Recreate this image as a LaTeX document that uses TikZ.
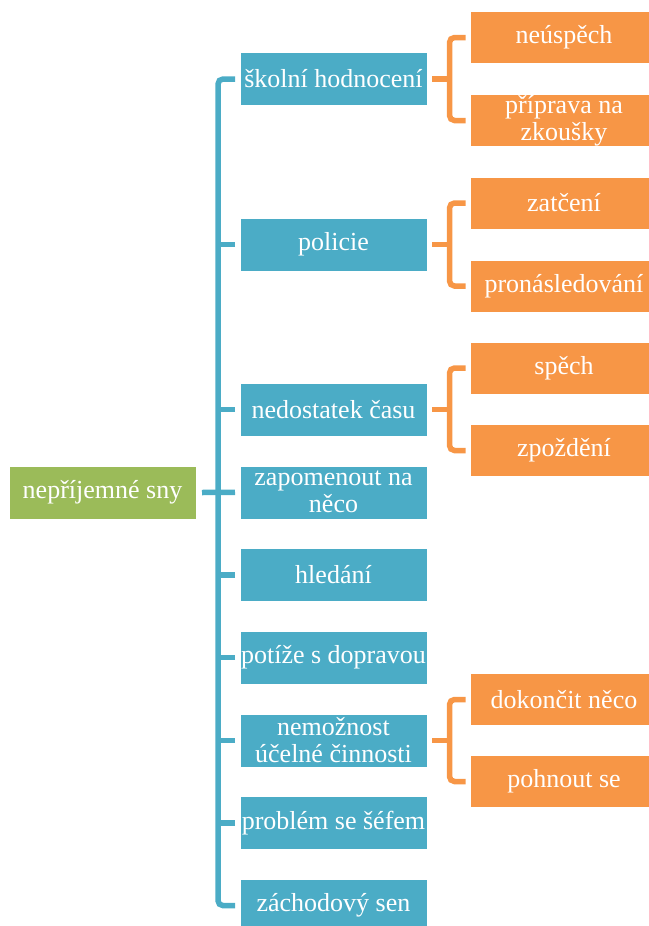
\documentclass[tikz,border=0pt]{standalone}
\usepackage{fontspec}
\setmainfont{Liberation Serif}
\begin{document}
\begin{tikzpicture}[x=1pt,y=-1pt,
  box/.style={inner sep=0pt, outer sep=0pt, draw=white, line width=0.6pt,
    text=white, align=center, minimum width=187pt, minimum height=53pt,
    font=\fontsize{26}{27}\selectfont},
  rootbox/.style={box, fill=rootgreen},
  catbox/.style={box, fill=catblue},
  subbox/.style={box, fill=suborange, minimum height=52pt},
  catline/.style={draw=catblue, line width=5.5pt, rounded corners=5pt},
  subline/.style={draw=suborange, line width=5.5pt, rounded corners=5pt}]
\definecolor{rootgreen}{HTML}{9BBB59}
\definecolor{catblue}{HTML}{4BACC6}
\definecolor{suborange}{HTML}{F79646}
\useasboundingbox (0,0) rectangle (648,926);

% root
\node[rootbox] (root) at (102.5,492.5) {nepříjemné sny};

% categories
\node[catbox] (b1) at (333.5,79)    {školní hodnocení};
\node[catbox] (b2) at (333.5,244.3) {policie};
\node[catbox] (b3) at (333.5,409.6) {nedostatek času};
\node[catbox] (b4) at (333.5,492.3) {zapomenout na\\něco};
\node[catbox] (b5) at (333.5,575)   {hledání};
\node[catbox] (b6) at (333.5,657.6) {potíže s dopravou};
\node[catbox] (b7) at (333.5,740.3) {nemožnost\\účelné činnosti};
\node[catbox] (b8) at (333.5,823)   {problém se šéfem};
\node[catbox] (b9) at (333.5,905.6) {záchodový sen};

% sub-items
\node[subbox] (c1a) at (564,37.5)  {neúspěch};
\node[subbox] (c1b) at (564,120.5) {příprava na\\zkoušky};
\node[subbox] (c2a) at (564,203)   {zatčení};
\node[subbox] (c2b) at (564,286)   {pronásledování};
\node[subbox] (c3a) at (564,368)   {spěch};
\node[subbox] (c3b) at (564,450.5) {zpoždění};
\node[subbox] (c7a) at (564,699.5) {dokončit něco};
\node[subbox] (c7b) at (564,781.5) {pohnout se};

% trunk from the first to the last category
\draw[catline] ([xshift=-5]b1.west) -- ++(-17,0) |- ([xshift=-5]b9.west);
\foreach \n in {b2,b3,b5,b6,b7,b8}
  \draw[catline] ([xshift=-5]\n.west) -- ++(-17,0);
\draw[catline] ([xshift=6]root.east) -- ([xshift=-5]b4.west);

% brackets to the sub-items
\foreach \p/\a/\b in {b1/c1a/c1b, b2/c2a/c2b, b3/c3a/c3b, b7/c7a/c7b}{
  \draw[subline] ([xshift=-5]\a.west) -- ++(-16,0) |- ([xshift=-5]\b.west);
  \draw[subline] ([xshift=5]\p.east) -- ++(18,0);
}
\end{tikzpicture}
\end{document}
